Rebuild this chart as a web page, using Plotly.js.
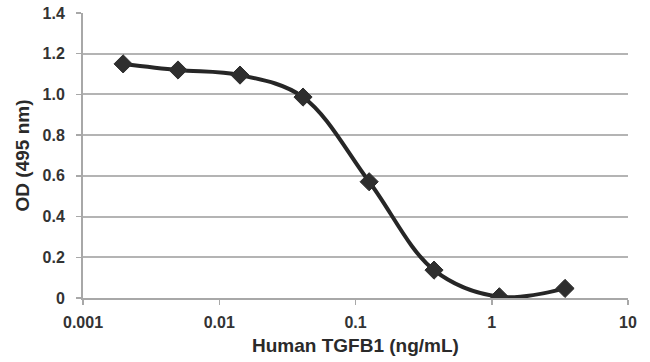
<!DOCTYPE html>
<html>
<head>
<meta charset="utf-8">
<script src="https://cdn.plot.ly/plotly-3.0.1.min.js"></script>
<style>html,body{margin:0;padding:0;background:#fff}#chart{width:650px;height:362px}</style>
</head>
<body>
<div id="chart"></div>
<script>
var concentration = [0.00197, 0.00498, 0.0142, 0.0412, 0.126, 0.377, 1.137, 3.45];
var odValues = [1.15, 1.12, 1.095, 0.987, 0.571, 0.137, 0.006, 0.047];
var yTickVals = [0, 0.2, 0.4, 0.6, 0.8, 1.0, 1.2, 1.4];
var yTickText = ['0', '0.2', '0.4', '0.6', '0.8', '1.0', '1.2', '1.4'];
var xTickVals = [0.001, 0.01, 0.1, 1, 10];
var xTickText = ['0.001', '0.01', '0.1', '1', '10'];

var trace = {
  x: concentration,
  y: odValues,
  type: 'scatter',
  mode: 'lines+markers',
  line: {color: '#262626', width: 4, shape: 'spline', smoothing: 1},
  marker: {symbol: 'diamond', size: 14, color: '#2e2e2e', line: {color: '#2e2e2e', width: 1}},
  hoverinfo: 'none'
};

var layout = {
  width: 650, height: 362,
  margin: {l: 83, r: 22, t: 13, b: 64},
  paper_bgcolor: '#ffffff', plot_bgcolor: '#ffffff',
  showlegend: false,
  font: {family: 'Liberation Sans, Arial, sans-serif', color: '#333333'},
  xaxis: {
    type: 'log',
    range: [-3, 1],
    tickvals: xTickVals,
    ticktext: xTickText,
    tickfont: {size: 16, weight: 'bold', color: '#333'},
    showgrid: false,
    showline: true, linecolor: '#a8a8a8', linewidth: 2,
    ticks: 'outside', ticklen: 5, tickcolor: '#a8a8a8', tickwidth: 1.5,
    ticklabelstandoff: 4,
    zeroline: false,
    title: {text: 'Human TGFB1 (ng/mL)', font: {size: 19, weight: 'bold', color: '#2a2a2a'}, standoff: 8}
  },
  yaxis: {
    range: [0, 1.4],
    tickvals: yTickVals,
    ticktext: yTickText,
    tickfont: {size: 16, weight: 'bold', color: '#333'},
    showgrid: true, gridcolor: '#b4b4b4', gridwidth: 2,
    showline: true, linecolor: '#a8a8a8', linewidth: 2,
    ticks: 'outside', ticklen: 5, tickcolor: '#a8a8a8', tickwidth: 1.5,
    ticklabelstandoff: 8,
    zeroline: false,
    title: {text: 'OD (495 nm)', font: {size: 19, weight: 'bold', color: '#2a2a2a'}, standoff: 8}
  }
};

Plotly.newPlot('chart', [trace], layout, {displayModeBar: false, staticPlot: true});
</script>
</body>
</html>
